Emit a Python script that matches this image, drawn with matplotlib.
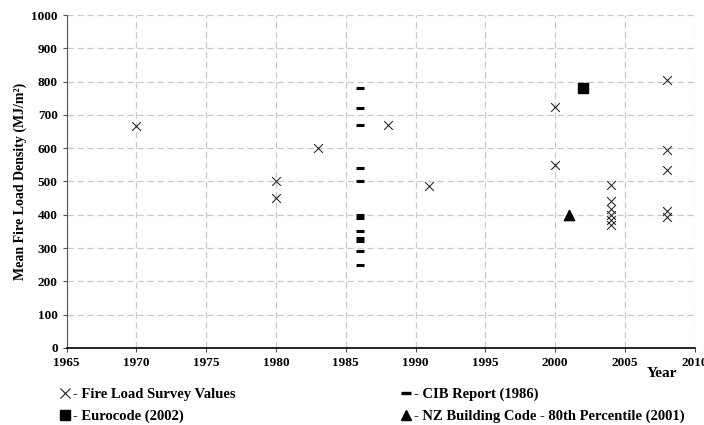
import matplotlib.pyplot as plt
from matplotlib.lines import Line2D

plt.rcParams['font.family'] = ['Liberation Serif', 'DejaVu Serif']
plt.rcParams['font.weight'] = 'bold'

# Fire load survey values (year, MJ/m2)
survey_years = [1970, 1980, 1980, 1983, 1988, 1991, 2000, 2000,
                2004, 2004, 2004, 2004, 2004, 2004,
                2008, 2008, 2008, 2008, 2008]
survey_values = [667, 500, 450, 600, 669, 487, 723, 551,
                 490, 440, 416, 400, 385, 370,
                 806, 594, 535, 410, 393]

# CIB report (1986)
cib_years = [1986] * 12
cib_values = [780, 720, 670, 540, 500, 400, 391, 350, 331, 320, 290, 250]

# Eurocode (2002) and NZ Building Code 80th percentile (2001)
euro_year, euro_value = [2002], [780]
nz_year, nz_value = [2001], [400]

fig = plt.figure(figsize=(7.04, 4.25), dpi=100)
ax = fig.add_axes([0.0947, 0.1812, 0.892, 0.7835])

ax.scatter(survey_years, survey_values, marker='x', s=40, color='#222222',
           linewidths=0.75, zorder=3)
ax.scatter(cib_years, cib_values, marker='_', s=36, color='black',
           linewidths=2.2, zorder=3)
ax.scatter(euro_year, euro_value, marker='s', s=55, color='black', zorder=3)
ax.scatter(nz_year, nz_value, marker='^', s=55, color='black', zorder=3)

ax.set_xlim(1965, 2010)
ax.set_ylim(0, 1000)
ax.set_xticks(range(1965, 2011, 5))
ax.set_yticks(range(0, 1001, 100))
ax.grid(True, linestyle=(0, (5, 3)), color='#c8c8c8', linewidth=0.9)
ax.set_axisbelow(True)
for side in ['top', 'right']:
    ax.spines[side].set_visible(False)
ax.spines['left'].set_color('#555555')
ax.spines['bottom'].set_color('black')
ax.spines['bottom'].set_linewidth(1.2)
ax.tick_params(axis='both', labelsize=9.5, length=3, width=0.8, color='#555555')

ax.set_ylabel('Mean Fire Load Density (MJ/m²)', fontsize=10,
              fontweight='bold', labelpad=3)
fig.text(0.940, 0.112, 'Year', fontsize=11, fontweight='bold', ha='center')

handles = [
    Line2D([], [], marker='x', linestyle='', color='#222222', markersize=7,
           markeredgewidth=0.8),
    Line2D([], [], marker='s', linestyle='', color='black', markersize=7),
    Line2D([], [], marker='_', linestyle='', color='black', markersize=7,
           markeredgewidth=2.4),
    Line2D([], [], marker='^', linestyle='', color='black', markersize=7),
]
labels = ['- Fire Load Survey Values', '- Eurocode (2002)',
          '- CIB Report (1986)', '- NZ Building Code - 80th Percentile (2001)']
fig.legend(handles, labels, ncol=2, loc='upper left',
           bbox_to_anchor=(0.0757, 0.102), frameon=False, fontsize=10.5,
           handlelength=0.8, handletextpad=0.15, columnspacing=11.25,
           labelspacing=0.6, borderaxespad=0)

fig.savefig('out.png', dpi=100)
